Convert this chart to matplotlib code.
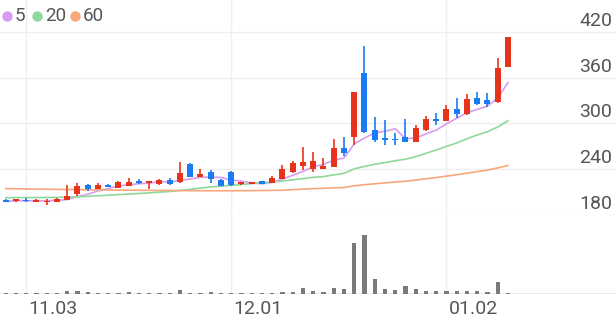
import matplotlib
matplotlib.use("Agg")
import matplotlib.pyplot as plt
import numpy as np
import pandas as pd

plt.rcParams['font.family'] = ['Roboto', 'DejaVu Sans']

# trading days shown (MM.DD)
dates = ['10.30', '10.31',
         '11.03', '11.04', '11.05', '11.06', '11.07', '11.10', '11.11', '11.12', '11.13', '11.14',
         '11.17', '11.18', '11.19', '11.20', '11.21', '11.24', '11.25', '11.26', '11.27', '11.28',
         '12.01', '12.02', '12.03', '12.04', '12.05', '12.08', '12.09', '12.10', '12.11', '12.12',
         '12.15', '12.16', '12.17', '12.18', '12.19', '12.22', '12.23', '12.24', '12.26', '12.29', '12.30',
         '01.02', '01.05', '01.06', '01.07', '01.08', '01.09', '01.12']
tick_dates = ['11.03', '12.01', '01.02']

opens = [200.3, 198.4, 200.1, 197.4, 196.7, 197.4, 199.7, 207.5, 219.0, 214.5,
         219.0, 215.4, 218.0, 224.6, 222.4, 220.7, 225.9, 222.9, 246.5, 229.8,
         236.0, 225.9, 236.1, 220.0, 220.9, 224.2, 222.0, 227.2, 236.4, 244.5,
         240.1, 240.6, 242.9, 267.5, 282.7, 365.8, 291.5, 281.0, 280.1, 281.9,
         276.1, 291.5, 305.5, 303.7, 318.6, 312.1, 333.8, 330.8, 328.6, 374.5]
highs = [201.6, 201.0, 201.9, 200.6, 201.0, 201.9, 219.3, 222.4, 220.7, 222.0,
         220.0, 224.6, 228.5, 227.6, 224.6, 227.6, 228.1, 249.1, 247.8, 239.7,
         238.4, 227.2, 237.1, 223.9, 223.3, 224.6, 231.4, 245.6, 251.2, 269.6,
         263.0, 254.1, 279.7, 281.9, 341.7, 401.6, 308.9, 304.6, 287.9, 305.5,
         298.0, 309.8, 313.4, 324.3, 333.1, 338.3, 340.9, 339.6, 385.5, 413.1]
lows = [196.4, 197.0, 197.4, 196.7, 193.5, 197.0, 199.3, 205.3, 211.9, 214.1,
        216.7, 214.8, 217.6, 221.1, 214.1, 219.0, 219.7, 222.4, 229.4, 229.2,
        222.6, 217.4, 218.0, 219.3, 220.3, 220.7, 221.6, 226.8, 234.7, 239.0,
        236.8, 240.6, 242.6, 257.4, 271.8, 287.2, 276.1, 271.8, 271.8, 275.1,
        275.7, 290.8, 298.0, 303.3, 306.8, 311.8, 323.9, 321.2, 326.5, 374.5]
closes = [197.7, 199.9, 198.0, 199.3, 197.4, 201.4, 205.3, 217.6, 214.1, 219.0,
          217.1, 223.7, 223.7, 221.6, 223.3, 225.9, 221.1, 235.5, 230.2, 234.4,
          227.5, 218.4, 218.7, 223.3, 222.6, 221.3, 228.3, 239.9, 248.2, 248.9,
          250.8, 244.3, 267.5, 261.7, 341.7, 289.2, 278.4, 278.4, 278.0, 276.1,
          293.7, 305.5, 303.7, 318.6, 312.5, 331.7, 325.6, 325.6, 372.4, 413.1]
volumes = [1.2, 1.0, 1.2, 1.0, 1.2, 1.0, 3.4, 5.0, 1.7, 1.0,
           1.0, 1.2, 2.2, 1.2, 1.2, 1.2, 1.0, 6.5, 1.5, 1.2,
           2.2, 1.2, 1.0, 0.5, 0.4, 0.5, 0.6, 2.8, 2.8, 9.5,
           3.5, 3.0, 8.8, 7.6, 85, 100, 24, 7.6, 6.4, 13.5,
           7.0, 4.7, 4.7, 4.7, 4.7, 4.7, 4.7, 3.0, 19.3, 0.6]

# moving averages as drawn (history before the window is not shown)
ma20 = [202.7, 202.8, 202.8, 202.9, 203.0, 203.1, 203.3, 203.9, 204.5, 205.3,
        206.0, 206.8, 207.5, 208.2, 209.0, 210.0, 210.8, 212.3, 213.6, 215.3,
        216.8, 217.7, 218.8, 220.0, 221.2, 222.2, 223.4, 224.5, 226.2, 227.7,
        229.4, 230.4, 232.6, 234.6, 240.5, 243.7, 246.6, 248.7, 251.1, 253.2,
        256.5, 260.9, 265.2, 270.0, 274.5, 280.0, 284.9, 289.2, 295.4, 303.6]
ma60 = [214.6, 214.4, 214.2, 214.0, 213.8, 213.6, 213.4, 213.3, 213.1, 213.0,
        212.8, 212.7, 212.5, 212.4, 212.3, 212.2, 212.1, 212.0, 211.9, 211.8,
        211.8, 211.8, 211.8, 211.9, 212.0, 212.1, 212.3, 212.5, 213.2, 213.9,
        214.6, 215.0, 215.6, 216.0, 218.3, 219.7, 220.9, 222.1, 223.2, 224.3,
        225.8, 227.5, 229.1, 231.0, 232.8, 234.9, 236.9, 238.9, 241.7, 245.0]

ma_labels = ['5', '20', '60']
ma_colors = ['#d79cf0', '#8fd89c', '#f6a77c']

UP = '#e8331c'
DOWN = '#1a7cf0'
GRID = '#efefef'
TXT = '#555555'

W, H = 616, 321
fig = plt.figure(figsize=(W / 100, H / 100), dpi=100)
ax = fig.add_axes([0, 1 - 215 / H, 1, 215 / H])
axv = fig.add_axes([0, (H - 293.5) / H, 1, (293.5 - 215) / H])

x = np.arange(len(closes))
o, hi, lo, c = map(np.array, (opens, highs, lows, closes))
ma5 = pd.Series(c).rolling(5, min_periods=1).mean().values

for a in (ax, axv):
    a.set_xlim(-0.556, 59.54)
    for s in a.spines.values():
        s.set_visible(False)
    a.set_xticks([])
    a.set_yticks([])
    for d in tick_dates:
        a.axvline(dates.index(d), color=GRID, lw=1, zorder=0)

ax.set_ylim(180, 180 + 215 / 0.7625)
for v in range(180, 421, 60):
    ax.axhline(v, color=GRID, lw=1, zorder=0)
    ax.annotate(str(v), xy=(0.9935, v), xycoords=('axes fraction', 'data'),
                xytext=(0, 6), textcoords='offset pixels',
                ha='right', va='baseline', fontsize=14, color=TXT)

# moving averages
for vals, col in zip([ma5, ma20, ma60], ma_colors):
    ax.plot(x, vals, color=col, lw=1.2, zorder=1)

# candles
colors = np.where(c >= o, UP, DOWN)
ax.vlines(x, lo, hi, colors=colors, lw=1.2, zorder=2)
body = np.maximum(np.abs(c - o), 2.0)
ax.bar(x, body, bottom=np.minimum(o, c), width=0.58, color=colors, zorder=3)

# legend
lx = [7, 37, 75]
for xp, lab, col in zip(lx, ma_labels, ma_colors):
    ax.plot([xp / W], [1 - 16 / 215], 'o', ms=7.5, color=col, mec='none',
            transform=ax.transAxes, clip_on=False)
    ax.text((xp + 8) / W, 1 - 16 / 215, lab, transform=ax.transAxes,
            ha='left', va='center', fontsize=13.5, color=TXT)

# volume
axv.set_ylim(0, 100 * 78.5 / 59)
axv.axhline(0, color='#e8e8e8', lw=1.2, zorder=0)
axv.bar(x, volumes, width=0.4, color='#7a7a7a', zorder=2)
for d in tick_dates:
    axv.annotate(d, xy=(dates.index(d), 0), xycoords=('data', 'axes fraction'),
                 xytext=(2, -21), textcoords='offset pixels',
                 ha='left', va='baseline', fontsize=14, color=TXT)

fig.savefig('out.png', dpi=100, facecolor='white')
